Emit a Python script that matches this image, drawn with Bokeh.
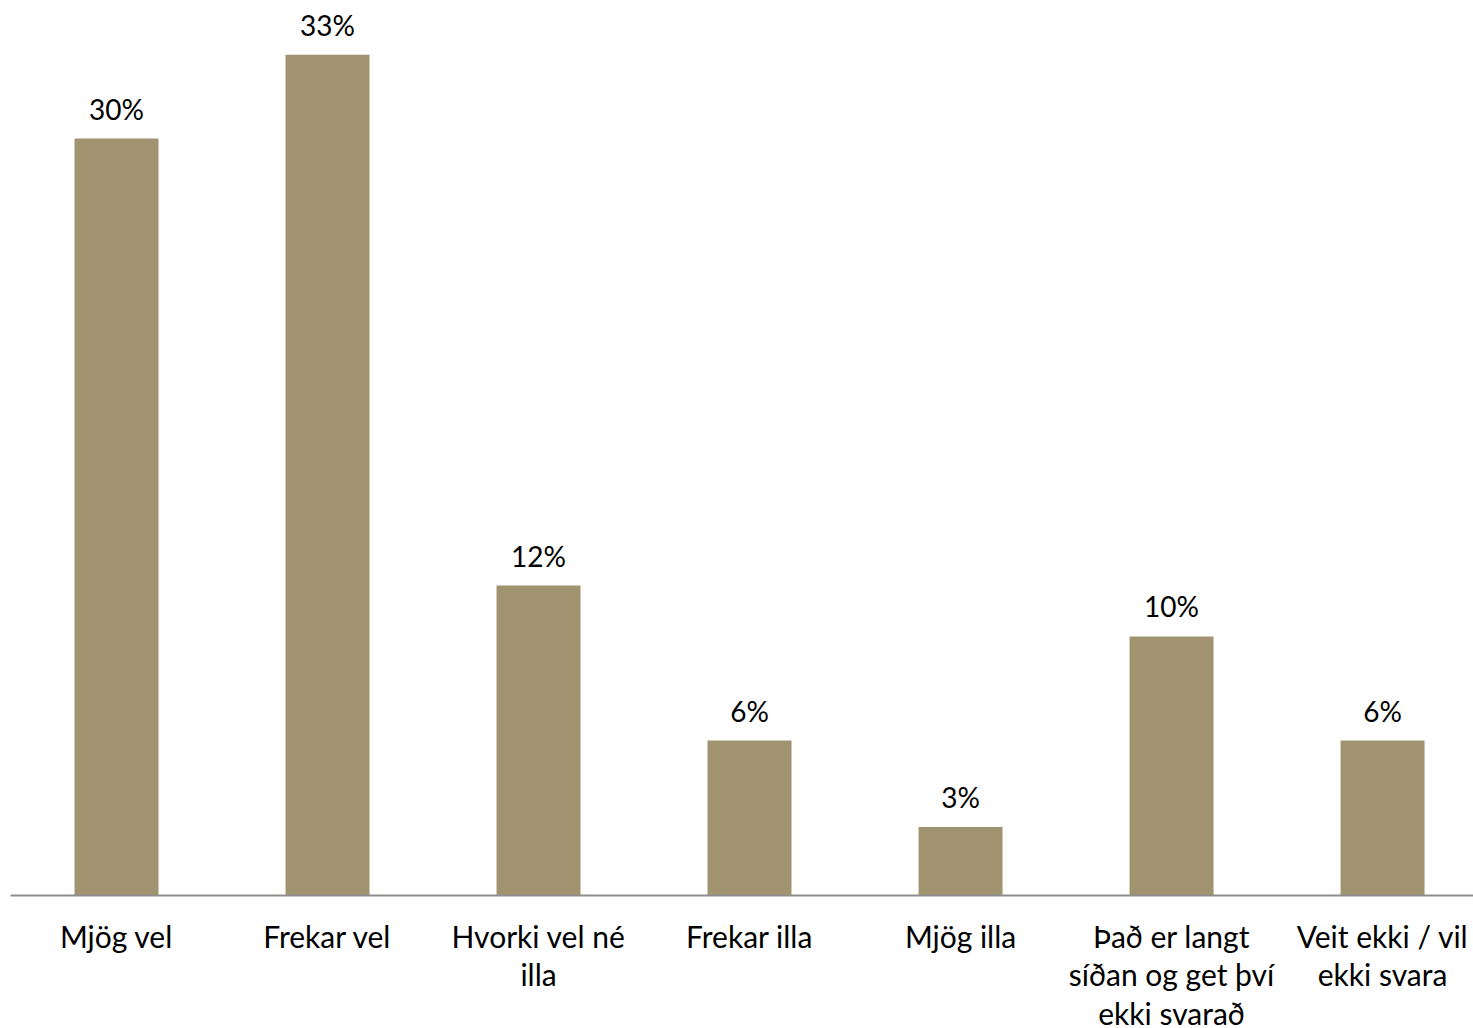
from bokeh.plotting import figure
from bokeh.models import ColumnDataSource, Range1d, FixedTicker
from bokeh.core.properties import value
from bokeh.embed import file_html
from bokeh.resources import INLINE

categories = ["Mjög vel", "Frekar vel", "Hvorki vel né\nilla", "Frekar illa",
              "Mjög illa", "Það er langt\nsíðan og get því\nekki svarað",
              "Veit ekki / vil\nekki svara"]
values = [29.8, 33.1, 12.2, 6.1, 2.7, 10.2, 6.1]
labels = ["30%", "33%", "12%", "6%", "3%", "10%", "6%"]

xs = list(range(len(categories)))
src = ColumnDataSource(dict(x=xs, v=values, lab=labels))

p = figure(frame_width=1463, frame_height=887, output_backend="svg",
           toolbar_location=None,
           x_range=Range1d(-0.5024, 6.431), y_range=Range1d(0, 34.92),
           min_border_left=10, min_border_right=0, min_border_top=8, min_border_bottom=0)

p.vbar(x="x", top="v", width=0.398, bottom=0, source=src,
       fill_color="#A19370", line_color=None)

p.text(x="x", y="v", text="lab", source=src, y_offset=-30,
       text_align="center", text_baseline="alphabetic",
       text_font=value("Lato"), text_font_size="28px", text_color="#000000")

p.yaxis.visible = False
p.xgrid.visible = False
p.ygrid.visible = False
p.outline_line_color = None

ax = p.xaxis[0]
ax.ticker = FixedTicker(ticks=xs)
ax.major_label_overrides = {i: c for i, c in enumerate(categories)}
ax.major_tick_line_color = None
ax.minor_tick_line_color = None
ax.axis_line_color = "#8e8e8e"
ax.axis_line_width = 2
ax.major_label_text_font = "Lato"
ax.major_label_text_font_size = "30px"
ax.major_label_text_color = "#000000"
ax.major_label_standoff = 16
ax.major_label_text_line_height = 1.07

open("out.html", "w").write(file_html(p, INLINE))
